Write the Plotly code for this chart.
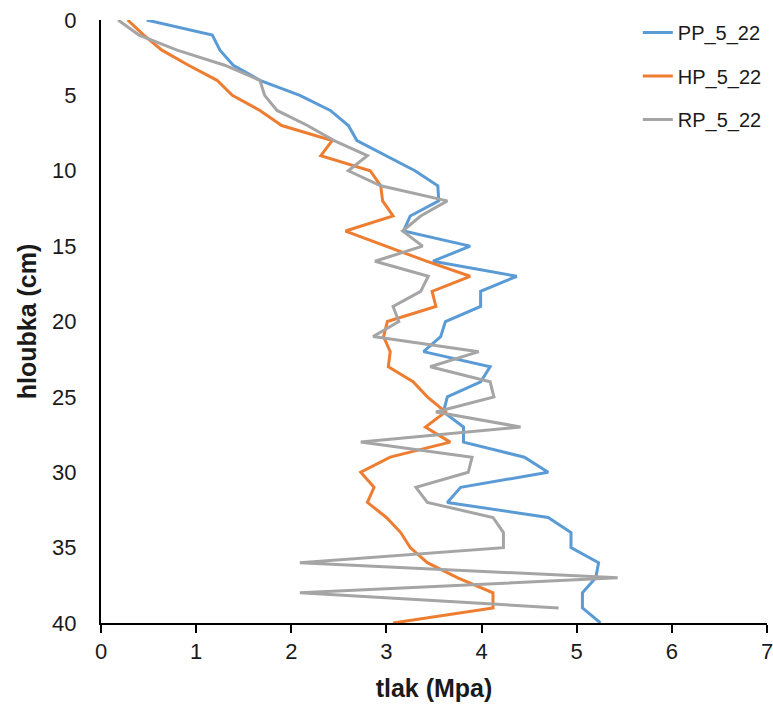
import plotly.graph_objects as go

depth = list(range(0, 41))

pp_5_22 = [0.48, 1.17, 1.25, 1.39, 1.67, 2.09, 2.41, 2.60, 2.69, 3.00,
           3.30, 3.54, 3.55, 3.25, 3.18, 3.88, 3.49, 4.37, 3.99, 3.99,
           3.62, 3.57, 3.39, 4.09, 3.99, 3.64, 3.60, 3.81, 3.81, 4.45,
           4.70, 3.78, 3.64, 4.70, 4.94, 4.94, 5.23, 5.20, 5.06, 5.06,
           5.25]

hp_5_22 = [0.28, 0.45, 0.64, 0.92, 1.22, 1.38, 1.67, 1.90, 2.43, 2.31,
           2.83, 2.94, 2.96, 3.07, 2.57, 2.99, 3.42, 3.88, 3.48, 3.52,
           3.01, 2.97, 3.04, 3.02, 3.28, 3.43, 3.62, 3.41, 3.67, 3.04,
           2.73, 2.87, 2.80, 3.00, 3.15, 3.25, 3.43, 3.75, 4.12, 4.12,
           3.07]

rp_5_22 = [0.18, 0.40, 0.80, 1.30, 1.67, 1.72, 1.85, 2.17, 2.45, 2.80,
           2.60, 2.94, 3.64, 3.36, 3.17, 3.38, 2.88, 3.44, 3.36, 3.07,
           3.13, 2.86, 3.97, 3.46, 4.09, 4.13, 3.52, 4.41, 2.73, 3.90,
           3.86, 3.31, 3.43, 4.12, 4.23, 4.23, 2.09, 5.43, 2.09, 4.81,
           None]

series = [
    ("PP_5_22", pp_5_22, "#5B9BD5"),
    ("HP_5_22", hp_5_22, "#ED7D31"),
    ("RP_5_22", rp_5_22, "#A5A5A5"),
]

x_ticks = [0, 1, 2, 3, 4, 5, 6, 7]
y_ticks = [0, 5, 10, 15, 20, 25, 30, 35, 40]

fig = go.Figure()
for name, vals, color in series:
    fig.add_trace(go.Scatter(
        x=vals, y=depth, mode="lines", name=name, legendgroup=name,
        line=dict(color=color, width=3), connectgaps=False,
    ))

font_family = "'Liberation Sans', Arial, sans-serif"

fig.update_layout(
    width=773, height=708,
    margin=dict(l=101, r=6, t=20, b=85),
    paper_bgcolor="white", plot_bgcolor="white",
    font=dict(family=font_family, size=22, color="#1a1a1a"),
    showlegend=True,
    legend=dict(
        x=0.806, y=1.0117, xanchor="left", yanchor="top",
        traceorder="grouped", tracegroupgap=14.5,
        font=dict(size=20, color="#1a1a1a"),
        bgcolor="rgba(0,0,0,0)", borderwidth=0,
    ),
    xaxis=dict(
        range=[0, 7], tickvals=x_ticks, showgrid=False, zeroline=False,
        showline=True, linecolor="black", linewidth=2,
        ticks="outside", ticklen=8, tickwidth=2, tickcolor="black",
        title=dict(text="<b>tlak (Mpa)</b>", standoff=16, font=dict(size=25)),
        tickfont=dict(size=22), automargin=False, ticklabeloverflow="allow",
    ),
    yaxis=dict(
        range=[40, 0], tickvals=y_ticks, showgrid=False, zeroline=False,
        showline=True, linecolor="black", linewidth=2,
        ticks="", ticklabelstandoff=18,
        title=dict(text="<b>hloubka (cm)</b>", standoff=8, font=dict(size=25)),
        tickfont=dict(size=22), automargin=False, ticklabeloverflow="allow",
    ),
)

fig.write_html(
    "out.html",
    config={"displayModeBar": False},
    post_script="document.body.style.margin='0';document.body.style.overflow='hidden';",
)
